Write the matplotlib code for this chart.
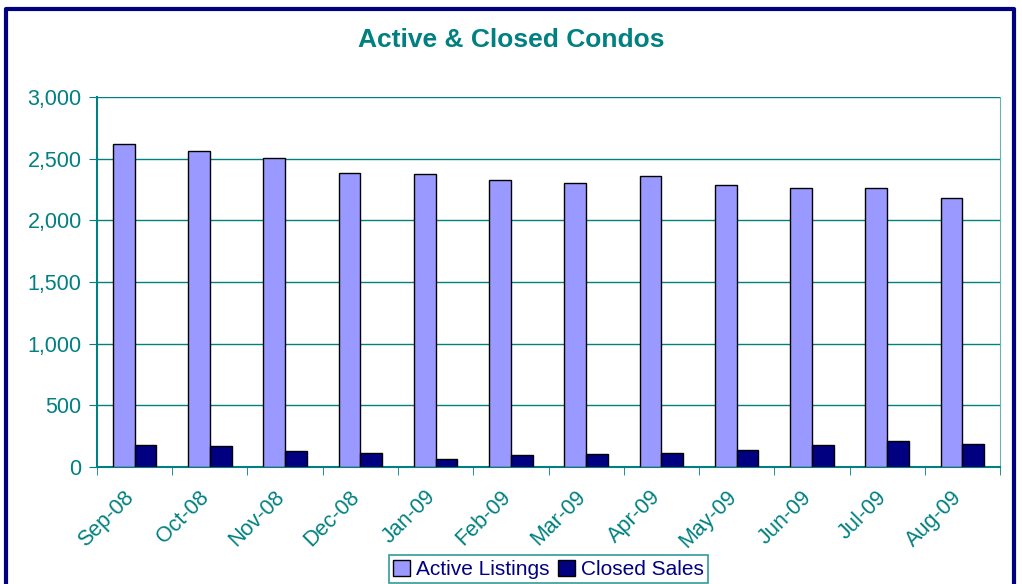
import matplotlib.pyplot as plt
import matplotlib.transforms as mtransforms
import numpy as np

# dados
meses = ['Sep-08', 'Oct-08', 'Nov-08', 'Dec-08', 'Jan-09', 'Feb-09',
         'Mar-09', 'Apr-09', 'May-09', 'Jun-09', 'Jul-09', 'Aug-09']
active = [2620, 2560, 2505, 2385, 2375, 2325, 2300, 2360, 2285, 2260, 2260, 2180]
closed = [178, 170, 132, 116, 67, 100, 108, 116, 135, 178, 207, 189]

teal = '#008080'
navy = '#000080'

plt.rcParams['font.family'] = ['Liberation Sans', 'DejaVu Sans']

fig = plt.figure(figsize=(10.22, 5.84), dpi=100)
ax = fig.add_axes([0.0949, 0.2003, 0.8836, 0.6337])

x = np.arange(len(meses))
w = 0.29
ax.bar(x - w / 2, active, w, color='#9999FF', edgecolor='black', linewidth=1.0,
       label='Active Listings', zorder=3)
ax.bar(x + w / 2, closed, w, color=navy, edgecolor='black', linewidth=1.0,
       label='Closed Sales', zorder=3)

ax.set_xlim(-0.5, len(meses) - 0.5)
ax.set_ylim(0, 3000)
ax.set_yticks(np.arange(0, 3001, 500))
ax.set_yticklabels(['{:,}'.format(v) for v in range(0, 3001, 500)])
ax.yaxis.grid(True, color=teal, linewidth=1.0, zorder=0)

# rotulos no centro, marcas entre categorias
ax.set_xticks(x)
ax.set_xticklabels(meses, rotation=45, ha='right', rotation_mode='anchor')
ax.set_xticks(np.arange(-0.5, len(meses)), minor=True)
ax.tick_params(axis='x', which='major', length=0, pad=9, labelsize=15.5, labelcolor=teal)
ax.tick_params(axis='x', which='minor', length=6, color=teal, direction='out')
ax.tick_params(axis='y', length=6, color=teal, labelsize=15.5, labelcolor=teal, pad=5)

# desloca os rotulos um pouco para a esquerda e para baixo
desloc = mtransforms.ScaledTranslation(-11 / 100, -7 / 100, fig.dpi_scale_trans)
for lbl in ax.get_xticklabels():
    lbl.set_transform(lbl.get_transform() + desloc)

for s in ['left', 'bottom']:
    ax.spines[s].set_color(teal)
    ax.spines[s].set_linewidth(1.5)
ax.spines['right'].set_color('#66b2b2')
ax.spines['top'].set_visible(False)

fig.text(0.5, 0.931, 'Active & Closed Condos', ha='center', va='center',
         fontsize=19, fontweight='bold', color=teal)

leg = ax.legend(loc='center', bbox_to_anchor=(0.5, -0.276), ncol=2, fontsize=15,
                frameon=True, fancybox=False, handlelength=0.8, handleheight=0.8,
                handletextpad=0.3, columnspacing=0.4, borderpad=0.2, labelcolor=navy)
leg.get_frame().set_edgecolor(teal)
leg.get_frame().set_linewidth(1.2)

# moldura externa azul escura
fig.add_artist(plt.Line2D([0.006, 0.006, 0.992, 0.992], [-0.05, 0.984, 0.984, -0.05],
                          color=navy, linewidth=3, transform=fig.transFigure))

fig.savefig('out.png', dpi=100)
